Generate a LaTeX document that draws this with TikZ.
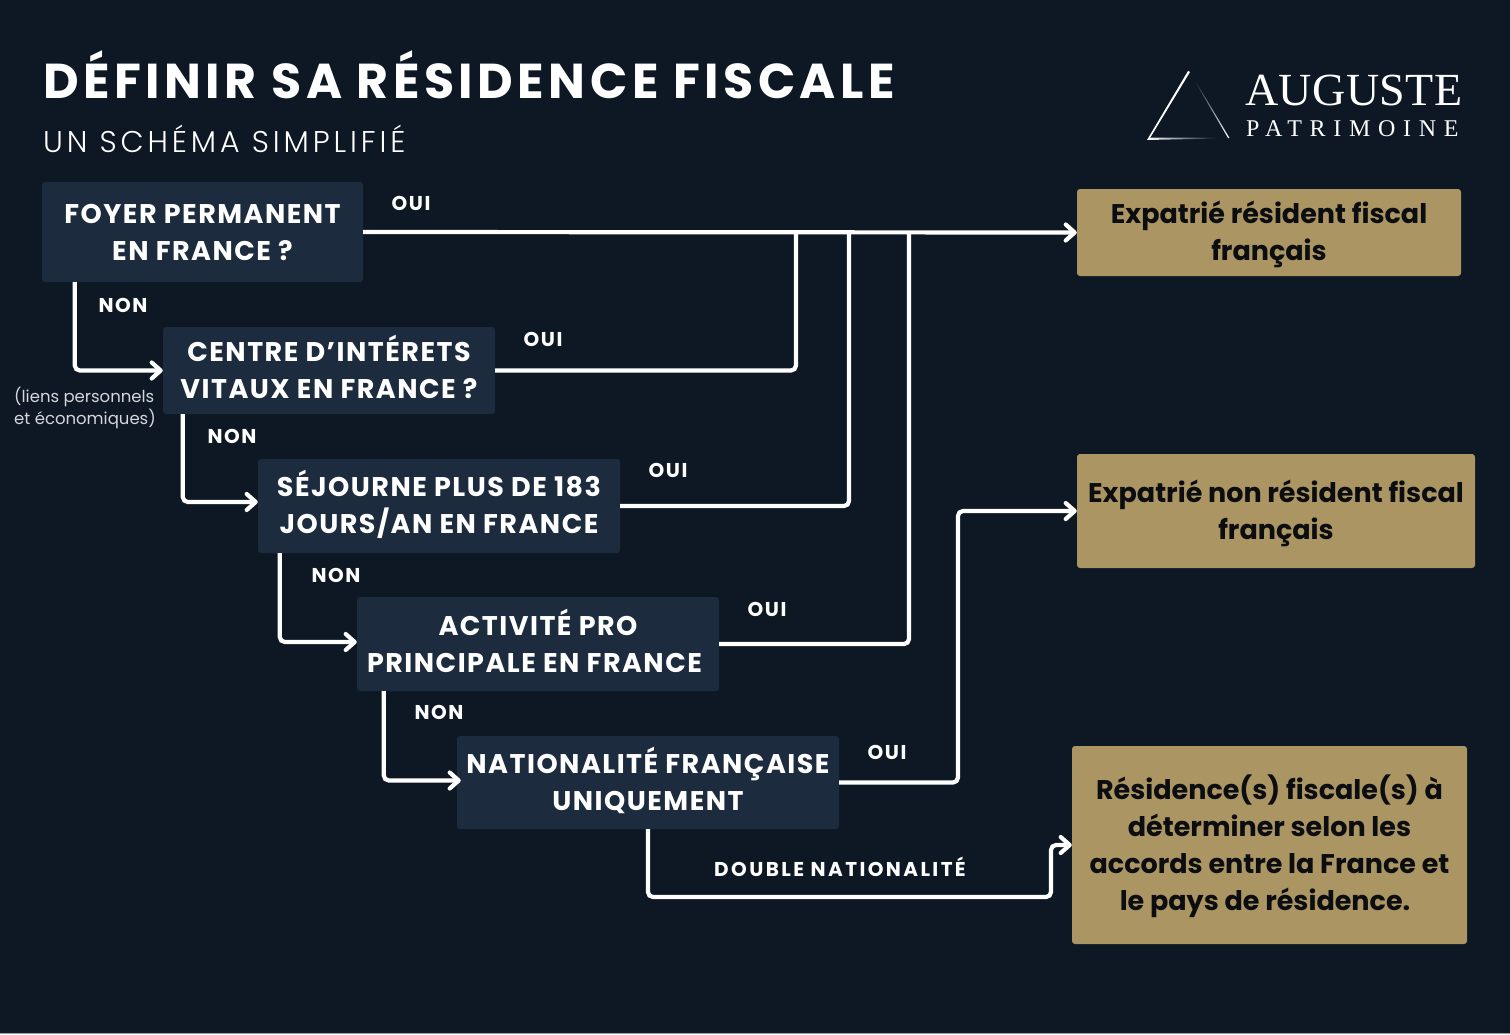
\documentclass[tikz,border=0pt]{standalone}
\usepackage{fontspec}
\setmainfont{Poppins}
\newfontfamily\logofont[LetterSpace=1]{Liberation Serif}
\newfontfamily\logospaced[LetterSpace=32]{Liberation Serif}
\newfontfamily\titlefont[LetterSpace=9.1]{Poppins}
\newfontfamily\subfont[LetterSpace=13]{Poppins Light}
\newfontfamily\qfont[LetterSpace=5.5]{Poppins}
\newfontfamily\tagfont[LetterSpace=8]{Poppins}
\newfontfamily\dblfont[LetterSpace=12]{Poppins}
\usetikzlibrary{arrows.meta,calc}
\definecolor{bgcol}{HTML}{0D1824}
\definecolor{boxcol}{HTML}{1C2B3E}
\definecolor{goldcol}{HTML}{AB9663}
\definecolor{inkcol}{HTML}{0B0D10}
\definecolor{noteol}{HTML}{D5D7DA}
\definecolor{edgecol}{HTML}{9A9FA5}
\newcommand{\boxtext}[2]{\raisebox{#1}[0pt][0pt]{\begin{tabular}[c]{@{}c@{}}#2\end{tabular}}}
\tikzset{
  x=1pt,y=-1pt,
  question/.style={fill=boxcol,rounded corners=3pt,inner sep=0pt,align=center,text=white,font=\fontsize{27}{37}\selectfont\qfont\bfseries},
  outcome/.style={fill=goldcol,rounded corners=3pt,inner sep=0pt,align=center,text=inkcol,font=\fontsize{27}{37}\selectfont\bfseries},
  tag/.style={text=white,inner sep=0pt,font=\fontsize{20}{24}\selectfont\tagfont\bfseries},
  link/.style={draw=white,line width=4.2pt,rounded corners=5pt,line cap=butt},
  linkarrow/.style={link,-{Straight Barb[length=9pt,width=16pt,line width=4.2pt,round]}},
}
\begin{document}
\begin{tikzpicture}
\useasboundingbox (0,0) rectangle (1510,1034);
\fill[bgcol] (0,0) rectangle (1510,1034);
\fill[edgecol] (0,1033) rectangle (1510,1034);
% title
\node[anchor=west,inner sep=0pt,text=white,font=\fontsize{49}{56}\selectfont\titlefont\bfseries] (title) at (43,74.5) {DÉFINIR SA RÉSIDENCE FISCALE};
\node[anchor=west,inner sep=0pt,text=white,font=\fontsize{30}{36}\selectfont\subfont] (subtitle) at (43,139) {UN SCHÉMA SIMPLIFIÉ};
% logo
\fill[white] (1188,71) -- (1190,72) -- (1150,138) -- (1147,140) -- cycle;
\shade[left color=white,middle color=white!75!bgcol,right color=bgcol] (1147,140) -- (1150,137.5) -- (1217,137.5) -- (1217,138.5) -- cycle;
\shade[top color=bgcol,bottom color=white] (1194,80) -- (1195,80) -- (1229.5,138) -- (1228,138) -- cycle;
\node[anchor=west,inner sep=0pt,text=white,font=\fontsize{46}{50}\selectfont\logofont] (logoa) at (1245,90) {AUGUSTE};
\node[anchor=west,inner sep=0pt,text=white,font=\fontsize{24}{28}\selectfont\logospaced] (logob) at (1246,129) {PATRIMOINE};
% question boxes
\node[question,minimum width=321pt,minimum height=100pt] (q1) at (202.5,232) {\boxtext{-9pt}{FOYER PERMANENT\\EN FRANCE ?}};
\node[question,minimum width=332pt,minimum height=87pt] (q2) at (329,370.5) {\boxtext{-8pt}{CENTRE D’INTÉRETS\\VITAUX EN FRANCE ?}};
\node[question,minimum width=362pt,minimum height=94pt] (q3) at (439,506) {\boxtext{-8pt}{SÉJOURNE PLUS DE 183\\JOURS/AN EN FRANCE}};
\node[question,minimum width=362pt,minimum height=94pt] (q4) at (538,644) {\boxtext{-9pt}{ACTIVITÉ PRO\\PRINCIPALE EN FRANCE\hspace*{7pt}}};
\node[question,minimum width=382pt,minimum height=93pt] (q5) at (648,782.5) {\boxtext{-8pt}{NATIONALITÉ FRANÇAISE\\UNIQUEMENT}};
% outcomes
\node[outcome,minimum width=384pt,minimum height=87pt] (r1) at (1269,232.5) {\boxtext{-8pt}{Expatrié résident fiscal\\français}};
\node[outcome,minimum width=398pt,minimum height=114pt] (r2) at (1276,511) {\boxtext{-9pt}{Expatrié non résident fiscal\\français}};
\node[outcome,minimum width=395pt,minimum height=198pt] (r3) at (1269.5,845) {\boxtext{-9pt}{Résidence(s) fiscale(s) à\\déterminer selon les\\accords entre la France et\\le pays de résidence.\hspace*{9pt}}};
% note
\node[anchor=center,align=left,inner sep=0pt,text=noteol,font=\fontsize{16.5}{22}\selectfont] (note) at (85,407.5) {(liens personnels\\et économiques)};
% junctions
\coordinate (j2) at (796,232);
\coordinate (j3) at (849,232);
\coordinate (j4) at (909,232);
% OUI links
\draw[link] (q2.east) -- (q2.east -| j2) -- (j2);
\draw[link] (q3.east) -- (q3.east -| j3) -- (j3);
\draw[link] (q4.east) -- (q4.east -| j4) -- (j4);
\draw[linkarrow] (q1.east) -- (r1.west);
\coordinate (bend5) at (958,782.5);
\draw[linkarrow] (q5.east) -- (bend5) -- (bend5 |- r2.west) -- (r2.west);
% NON links
\draw[linkarrow] ($(q1.south west)+(33,0)$) |- (q2.west);
\draw[linkarrow] ($(q2.south west)+(20,0)$) |- ($(q3.west)+(0,-4)$);
\draw[linkarrow] ($(q3.south west)+(22,0)$) |- ($(q4.west)+(0,-2)$);
\draw[linkarrow] ($(q4.south west)+(27,0)$) |- ($(q5.west)+(4,-2)$);
\coordinate (low1) at (648,897);
\coordinate (low2) at (1051,897);
\draw[linkarrow] (q5.south) -- (low1) -- (low2) -- (low2 |- r3.west) -- (r3.west);
% labels
\node[tag] (oui1) at (411,203) {OUI};
\node[tag] (oui2) at (543,339) {OUI};
\node[tag] (oui3) at (668,470) {OUI};
\node[tag] (oui4) at (767,609) {OUI};
\node[tag] (oui5) at (887,752) {OUI};
\node[tag] (non1) at (123,305) {NON};
\node[tag] (non2) at (232,436) {NON};
\node[tag] (non3) at (336,575) {NON};
\node[tag] (non4) at (439,712) {NON};
\node[tag,font=\fontsize{20}{24}\selectfont\dblfont\bfseries] (dbl) at (840,867) {DOUBLE NATIONALITÉ};
\end{tikzpicture}
\end{document}
